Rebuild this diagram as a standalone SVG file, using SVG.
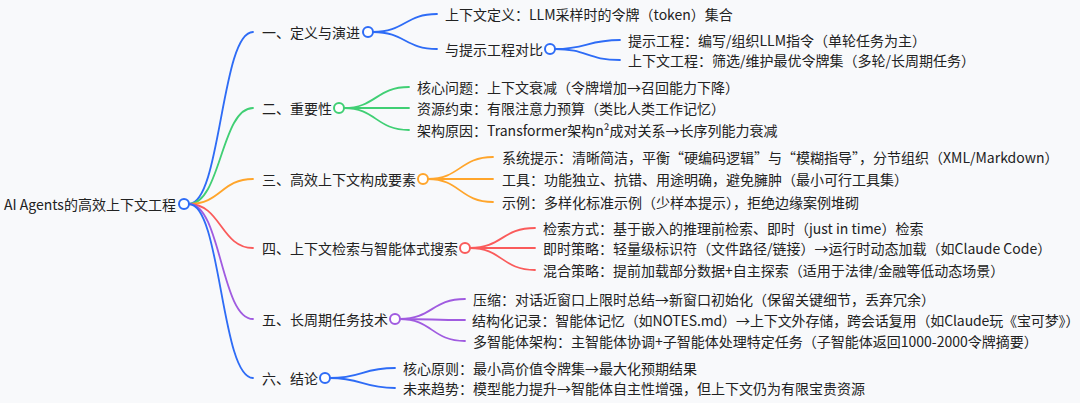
<svg xmlns="http://www.w3.org/2000/svg" width="1080" height="403" viewBox="0 0 1080 403">
<style>
text{font-family:"Noto Sans CJK SC","Noto Sans",sans-serif;font-size:14px;fill:#222;dominant-baseline:central}
.c{fill:none;stroke-width:1.8;stroke-linecap:round}
.n{fill:#fff;stroke-width:2}
.b{stroke:#2e6cf6}.g{stroke:#40cf74}.o{stroke:#ffa52b}.r{stroke:#fa5b5b}.p{stroke:#a05be0}
</style>
<rect width="1080" height="403" fill="#f8f9fb"/>
<g id="connectors">
<path class="c b" d="M189 204C221 204 221 32 253 32"/>
<path class="c g" d="M189 204C221 204 221 108 253 108"/>
<path class="c o" d="M189 204C221 204 221 179 253 179"/>
<path class="c r" d="M189 204C221 204 221 248 253 248"/>
<path class="c p" d="M189 204C221 204 221 319 253 319"/>
<path class="c b" d="M189 204C221 204 221 378 253 378"/>
<path class="c b" d="M373 32C405 32 405 14 437 14"/>
<path class="c b" d="M373 32C405 32 405 49 437 49"/>
<path class="c b" d="M555 49C587 49 587 40 620 40"/>
<path class="c b" d="M555 49C587 49 587 60 620 60"/>
<path class="c g" d="M344 108C376 108 376 87 409 87"/>
<path class="c g" d="M344 108C376 108 376 108 409 108"/>
<path class="c g" d="M344 108C376 108 376 130 409 130"/>
<path class="c o" d="M428 179C460 179 460 157 493 157"/>
<path class="c o" d="M428 179C460 179 460 179 493 179"/>
<path class="c o" d="M428 179C460 179 460 202 493 202"/>
<path class="c r" d="M470 248C502 248 502 228 535 228"/>
<path class="c r" d="M470 248C502 248 502 248 535 248"/>
<path class="c r" d="M470 248C502 248 502 270 535 270"/>
<path class="c p" d="M400 319C432 319 432 299 465 299"/>
<path class="c p" d="M400 319C432 319 432 320 465 320"/>
<path class="c p" d="M400 319C432 319 432 341 465 341"/>
<path class="c b" d="M330 378C362 378 362 368 395 368"/>
<path class="c b" d="M330 378C362 378 362 388 395 388"/>
</g>
<g id="root"><text x="4" y="204">AI Agents的高效上下文工程</text><circle class="n b" cx="184" cy="204" r="5"/></g>
<g id="n1"><text x="262" y="32">一、定义与演进</text><circle class="n b" cx="368" cy="32" r="5"/></g>
<g id="n1a"><text x="445" y="14">上下文定义：LLM采样时的令牌（token）集合</text></g>
<g id="n1b"><text x="445" y="49">与提示工程对比</text><circle class="n b" cx="550" cy="49" r="5"/></g>
<g id="n1b1"><text x="628" y="40">提示工程：编写/组织LLM指令（单轮任务为主）</text></g>
<g id="n1b2"><text x="628" y="60">上下文工程：筛选/维护最优令牌集（多轮/长周期任务）</text></g>
<g id="n2"><text x="262" y="108">二、重要性</text><circle class="n g" cx="339" cy="108" r="5"/></g>
<g id="n2a"><text x="417" y="87">核心问题：上下文衰减（令牌增加→召回能力下降）</text></g>
<g id="n2b"><text x="417" y="108">资源约束：有限注意力预算（类比人类工作记忆）</text></g>
<g id="n2c"><text x="417" y="130">架构原因：Transformer架构n²成对关系→长序列能力衰减</text></g>
<g id="n3"><text x="262" y="179">三、高效上下文构成要素</text><circle class="n o" cx="423" cy="179" r="5"/></g>
<g id="n3a"><text x="502" y="157">系统提示：清晰简洁，平衡“硬编码逻辑”与“模糊指导”，分节组织（XML/Markdown）</text></g>
<g id="n3b"><text x="502" y="179">工具：功能独立、抗错、用途明确，避免臃肿（最小可行工具集）</text></g>
<g id="n3c"><text x="502" y="202">示例：多样化标准示例（少样本提示），拒绝边缘案例堆砌</text></g>
<g id="n4"><text x="262" y="248">四、上下文检索与智能体式搜索</text><circle class="n r" cx="465" cy="248" r="5"/></g>
<g id="n4a"><text x="543" y="228">检索方式：基于嵌入的推理前检索、即时（just in time）检索</text></g>
<g id="n4b"><text x="543" y="248">即时策略：轻量级标识符（文件路径/链接）→运行时动态加载（如Claude Code）</text></g>
<g id="n4c"><text x="543" y="270">混合策略：提前加载部分数据+自主探索（适用于法律/金融等低动态场景）</text></g>
<g id="n5"><text x="262" y="319">五、长周期任务技术</text><circle class="n p" cx="395" cy="319" r="5"/></g>
<g id="n5a"><text x="473" y="299">压缩：对话近窗口上限时总结→新窗口初始化（保留关键细节，丢弃冗余）</text></g>
<g id="n5b"><text x="472" y="320" style="letter-spacing:-0.12px">结构化记录：智能体记忆（如NOTES.md）→上下文外存储，跨会话复用（如Claude玩《宝可梦》）</text></g>
<g id="n5c"><text x="473" y="341">多智能体架构：主智能体协调+子智能体处理特定任务（子智能体返回1000-2000令牌摘要）</text></g>
<g id="n6"><text x="262" y="378">六、结论</text><circle class="n b" cx="325" cy="378" r="5"/></g>
<g id="n6a"><text x="403" y="368">核心原则：最小高价值令牌集→最大化预期结果</text></g>
<g id="n6b"><text x="403" y="388">未来趋势：模型能力提升→智能体自主性增强，但上下文仍为有限宝贵资源</text></g>
</svg>
